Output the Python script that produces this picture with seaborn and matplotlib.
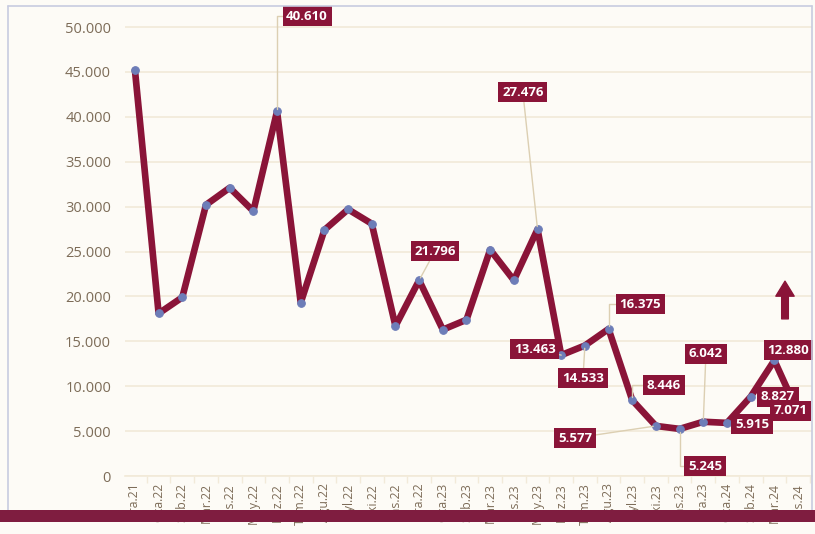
import matplotlib
matplotlib.use("Agg")
import matplotlib.pyplot as plt
from matplotlib.patches import Rectangle
from matplotlib.lines import Line2D
from matplotlib.ticker import FuncFormatter, FixedLocator
import seaborn as sns
import pandas as pd

months = ["Ara.21", "Oca.22", "Şub.22", "Mar.22", "Nis.22", "May.22", "Haz.22", "Tem.22",
          "Ağu.22", "Eyl.22", "Eki.22", "Kas.22", "Ara.22", "Oca.23", "Şub.23", "Mar.23",
          "Nis.23", "May.23", "Haz.23", "Tem.23", "Ağu.23", "Eyl.23", "Eki.23", "Kas.23",
          "Ara.23", "Oca.24", "Şub.24", "Mar.24", "Nis.24"]
values = [45200, 18100, 19900, 30200, 32100, 29500, 40610, 19300,
          27400, 29700, 28100, 16700, 21796, 16300, 17400, 25200,
          21800, 27476, 13463, 14533, 16375, 8446, 5577, 5245,
          6042, 5915, 8827, 12880, 7071]

# labelled points: (index, label x position [category units], label y position, connector style)
label_idx = [6, 17, 12, 18, 19, 20, 21, 22, 23, 24, 25, 26, 27, 28]
label_x = [7.27, 16.38, 12.67, 16.89, 18.92, 21.33, 22.34, 18.58, 24.07, 24.11, 26.06, 27.15, 27.60, 27.68]
label_y = [51200, 42760, 25055, 14140, 10900, 19150, 10130, 4230, 1110, 13590, 5790, 8800, 14030, 7240]
label_conn = ["elbow", "line", "line", "line", "line", "elbow", "elbow", "line", "elbow",
              "line", "none", "none", "none", "none"]

MAROON = "#8a1438"
BG = "#fdfbf6"
TICK_C = "#7d6c58"
GRID_C = "#f2ead9"
LEADER_C = "#dccfb2"

df = pd.DataFrame({"pos": range(len(months)), "value": values})

sns.set_theme(style="white")
plt.rcParams["font.family"] = ["Open Sans", "DejaVu Sans"]

fig = plt.figure(figsize=(8.15, 5.34), dpi=100, facecolor=BG)
ax = fig.add_axes([125 / 815, 58 / 534, 687 / 815, 466 / 534])
ax.set_facecolor(BG)

sns.lineplot(data=df, x="pos", y="value", ax=ax, color=MAROON, linewidth=4.8,
             marker="o", markersize=5.5, markerfacecolor="#6d7db8",
             markeredgecolor="#6d7db8", zorder=3)

ax.set_xlim(-0.42, 28.59)
ax.set_ylim(0, 51900)
ax.set_xlabel("")
ax.set_ylabel("")

ax.set_yticks(range(0, 50001, 5000))
ax.yaxis.set_major_formatter(FuncFormatter(lambda v, p: f"{int(v):,}".replace(",", ".")))
ax.set_xticks(range(len(months)))
ax.set_xticklabels(months, rotation=90, va="top", ha="center")
ax.xaxis.set_minor_locator(FixedLocator([i + 0.5 for i in range(-1, len(months))]))

ax.tick_params(axis="y", length=6, color=GRID_C, labelsize=10.5, labelcolor=TICK_C, pad=4)
ax.tick_params(axis="x", which="major", length=0, labelsize=8.8, labelcolor=TICK_C, pad=5)
ax.tick_params(axis="x", which="minor", length=5, color=GRID_C, bottom=True)

ax.grid(axis="y", color=GRID_C, linewidth=1.2, zorder=0)
ax.grid(axis="x", visible=False)
for s in ["top", "right", "left"]:
    ax.spines[s].set_visible(False)
ax.spines["bottom"].set_color(GRID_C)
ax.spines["bottom"].set_linewidth(1.2)

for i, lx, ly, conn in zip(label_idx, label_x, label_y, label_conn):
    txt = f"{values[i]:,}".replace(",", ".")
    arrow = None
    if conn == "line":
        arrow = dict(arrowstyle="-", color=LEADER_C, lw=1.0, shrinkA=0, shrinkB=2)
    elif conn == "elbow":
        arrow = dict(arrowstyle="-", color=LEADER_C, lw=1.0, shrinkA=0, shrinkB=2,
                     connectionstyle="angle,angleA=0,angleB=90,rad=0")
    ax.annotate(txt, xy=(i, values[i]), xytext=(lx, ly), textcoords="data",
                ha="center", va="center", fontsize=9.5, fontweight="bold", color="white",
                bbox=dict(boxstyle="square,pad=0.28", fc=MAROON, ec="none"),
                arrowprops=arrow, zorder=5, annotation_clip=False)

# upward arrow
ax.annotate("", xy=(27.45, 21700), xytext=(27.45, 17500),
            arrowprops=dict(arrowstyle="simple,head_width=1.1,head_length=0.9,tail_width=0.4",
                            color=MAROON, mutation_scale=12, shrinkA=0, shrinkB=0),
            annotation_clip=False)

# frame lines
fc = "#c8cbe0"
fig.add_artist(Line2D([8 / 815, 8 / 815], [1 - 510 / 534, 1 - 6 / 534], transform=fig.transFigure, color=fc, lw=1.2))
fig.add_artist(Line2D([8 / 815, 812 / 815], [1 - 6 / 534, 1 - 6 / 534], transform=fig.transFigure, color=fc, lw=1.2))
fig.add_artist(Line2D([812 / 815, 812 / 815], [1 - 510 / 534, 1 - 6 / 534], transform=fig.transFigure, color=fc, lw=1.2))

# bottom band
fig.add_artist(Rectangle((0, 1 - 522 / 534), 1, 12 / 534, transform=fig.transFigure,
                         facecolor="#7f1d40", edgecolor="none", zorder=10))

fig.savefig("out.png", dpi=100, facecolor=BG)
